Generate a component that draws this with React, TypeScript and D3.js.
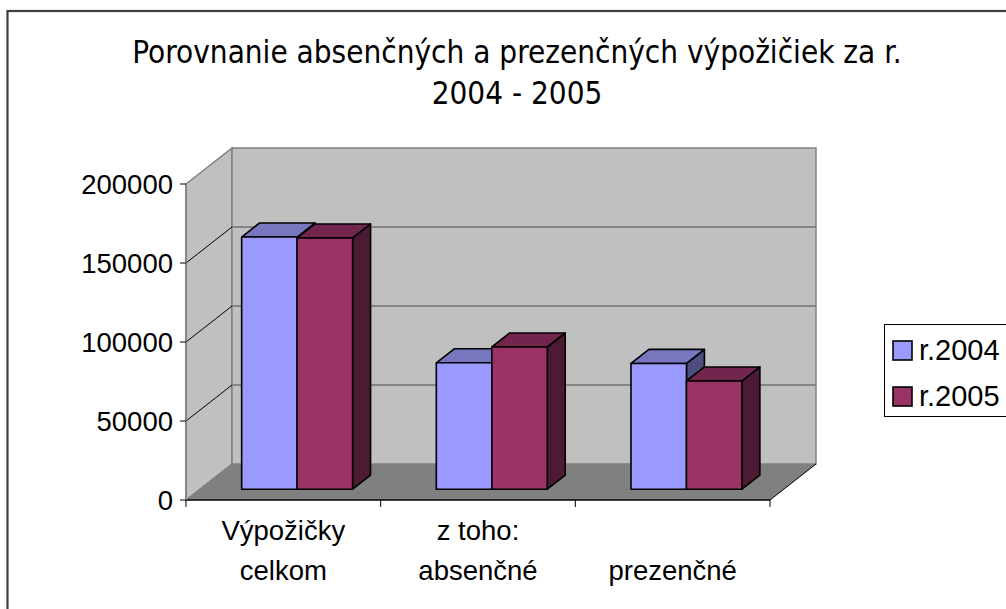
import React from 'react';
import * as d3 from 'd3';

// chart values
const categories = [['Výpožičky', 'celkom'], ['z toho:', 'absenčné'], ['', 'prezenčné']];
const seriesNames = ['r.2004', 'r.2005'];
const values2004 = [159600, 80000, 79600];
const values2005 = [159000, 90000, 68500];
const yTicks = [0, 50000, 100000, 150000, 200000];

const W = 1006;
const H = 609;

// colours per series: front, top, side
const faceColors = [
  { front: '#9999FF', top: '#7777C0', side: '#4D4D80' },
  { front: '#993366', top: '#73264D', side: '#4D1A33' },
];

export default function App() {
  // front plane of the 3d box
  const x0 = 186, x1 = 770;
  const y = d3.scaleLinear().domain([0, 200000]).range([500, 184]);
  const x = d3.scaleBand<number>()
    .domain(d3.range(categories.length))
    .range([x0, x1])
    .paddingInner(0.43)
    .paddingOuter(0.215);
  const xs = d3.scaleBand<number>().domain([0, 1]).range([0, x.bandwidth()]);

  // depth offset of the back wall
  const DX = 46, DY = -36;
  const proj = (px: number, py: number, d: number): [number, number] => [px + d * DX, py + d * DY];
  const pts = (arr: [number, number][]) => arr.map(p => p.join(',')).join(' ');

  const dFront = 0.3, dBack = 0.69;
  const series = [values2004, values2005];

  const bars: JSX.Element[] = [];
  categories.forEach((_, ci) => {
    series.forEach((vals, si) => {
      const bx0 = x(ci)! + xs(si)!;
      const bx1 = bx0 + xs.bandwidth();
      const yt = y(vals[ci]);
      const yb = y(0);
      const c = faceColors[si];
      const front = [proj(bx0, yt, dFront), proj(bx1, yt, dFront), proj(bx1, yb, dFront), proj(bx0, yb, dFront)];
      const top = [proj(bx0, yt, dFront), proj(bx0, yt, dBack), proj(bx1, yt, dBack), proj(bx1, yt, dFront)];
      const side = [proj(bx1, yt, dFront), proj(bx1, yt, dBack), proj(bx1, yb, dBack), proj(bx1, yb, dFront)];
      bars.push(
        <g key={`b${ci}-${si}`} stroke="#000" strokeWidth={1.6} strokeLinejoin="round">
          <polygon points={pts(side as any)} fill={c.side} />
          <polygon points={pts(top as any)} fill={c.top} />
          <polygon points={pts(front as any)} fill={c.front} />
        </g>
      );
    });
  });

  const yTop = y(200000), yBot = y(0);
  const backWall = [proj(x0, yTop, 1), proj(x1, yTop, 1), proj(x1, yBot, 1), proj(x0, yBot, 1)];
  const sideWall = [[x0, yTop], proj(x0, yTop, 1), proj(x0, yBot, 1), [x0, yBot]] as [number, number][];
  const floor = [[x0, yBot], [x1, yBot], proj(x1, yBot, 1), proj(x0, yBot, 1)] as [number, number][];

  const labelFont = '"Liberation Sans", Arial, sans-serif';
  const catTicks = d3.range(categories.length + 1).map(i => x0 + i * x.step());

  return (
    <svg width={W} height={H} style={{ position: 'absolute', left: 0, top: 0 }}>
      <rect x={0} y={0} width={W} height={H} fill="#fff" />
      <rect x={7.5} y={11} width={W + 20} height={H + 20} fill="none" stroke="#404040" strokeWidth={2.2} />

      <text x={517} textAnchor="middle" fontFamily='"DejaVu Sans Condensed", "DejaVu Sans", sans-serif' fontSize={31.2} fill="#000">
        <tspan x={517} y={63}>Porovnanie absenčných a prezenčných výpožičiek za r.</tspan>
        <tspan x={517} y={104}>2004 - 2005</tspan>
      </text>

      {/* walls and floor */}
      <polygon points={pts(sideWall)} fill="#C0C0C0" stroke="#808080" strokeWidth={1.5} />
      <polygon points={pts(backWall as any)} fill="#C0C0C0" stroke="#808080" strokeWidth={1.5} />
      <polygon points={pts(floor)} fill="#808080" />

      {/* grid lines */}
      {yTicks.slice(1, -1).map(t => {
        const [bx, by] = proj(x0, y(t), 1);
        const [ex] = proj(x1, y(t), 1);
        return (
          <g key={`g${t}`}>
            <line x1={x0} y1={y(t)} x2={bx} y2={by} stroke="#000" strokeWidth={1} />
            <line x1={bx} y1={by} x2={ex} y2={by} stroke="#707070" strokeWidth={1.5} />
          </g>
        );
      })}

      {/* floor edges */}
      <line x1={x0} y1={yBot} x2={x1} y2={yBot} stroke="#000" strokeWidth={1.5} />
      <line x1={x1} y1={yBot} x2={proj(x1, yBot, 1)[0]} y2={proj(x1, yBot, 1)[1]} stroke="#000" strokeWidth={1} />
      <line x1={x0} y1={yBot} x2={proj(x0, yBot, 1)[0]} y2={proj(x0, yBot, 1)[1]} stroke="#808080" strokeWidth={1} />

      {bars}

      {/* value axis */}
      <line x1={x0} y1={yTop} x2={x0} y2={yBot} stroke="#808080" strokeWidth={1.5} />
      {yTicks.map(t => (
        <g key={`yt${t}`}>
          <line x1={x0 - 6} y1={y(t)} x2={x0} y2={y(t)} stroke="#000" strokeWidth={1} />
          <text x={173} y={y(t)} dy="0.36em" textAnchor="end" fontFamily={labelFont} fontSize={27.5} fill="#000">{t}</text>
        </g>
      ))}

      {/* category axis */}
      {catTicks.map((cx, i) => (
        <line key={`ct${i}`} x1={cx} y1={yBot} x2={cx} y2={yBot + 7} stroke="#000" strokeWidth={1} />
      ))}
      {categories.map((lines, ci) => {
        const cx = x(ci)! + x.bandwidth() / 2;
        return (
          <text key={`cl${ci}`} textAnchor="middle" fontFamily={labelFont} fontSize={27.5} fill="#000">
            {lines[0] && <tspan x={cx} y={540}>{lines[0]}</tspan>}
            <tspan x={cx} y={580}>{lines[1]}</tspan>
          </text>
        );
      })}

      {/* legend */}
      <rect x={884.5} y={324.5} width={140} height={92} fill="#fff" stroke="#000" strokeWidth={1} />
      {seriesNames.map((name, i) => (
        <g key={name}>
          <rect x={893} y={341 + i * 46} width={19} height={19} fill={faceColors[i].front} stroke="#000" strokeWidth={1.6} />
          <text x={919} y={360 + i * 46} fontFamily={labelFont} fontSize={29} fill="#000">{name}</text>
        </g>
      ))}
    </svg>
  );
}
